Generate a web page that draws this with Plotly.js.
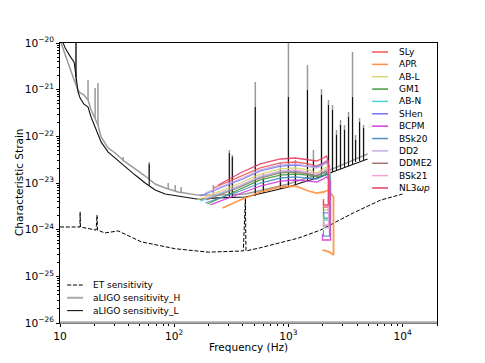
<!DOCTYPE html>
<html>
<head>
<meta charset="utf-8">
<script src="https://cdn.plot.ly/plotly-3.0.1.min.js"></script>
<style>body{margin:0;background:#fff}</style>
</head>
<body>
<div id="chart" style="width:485px;height:363px"></div>
<script>
// ET design curve (Hz, strain)
var et_freq = [10, 14.97, 15.0, 15.1, 20.7, 21.1, 21.3, 24.7, 32.3, 51.3, 102, 199, 403, 420, 425, 546, 1224, 1908, 3715, 6412, 10000];
var et_strain = [1.14e-24, 1.14e-24, 2.4e-24, 1.14e-24, 9.8e-25, 2.06e-24, 9.8e-25, 8.5e-25, 9.4e-25, 5.5e-25, 3.9e-25, 3.3e-25, 3.5e-25, 4.8e-24, 3.5e-25, 4.0e-25, 6.6e-25, 9.8e-25, 2.3e-24, 4.3e-24, 5.8e-24];

// aLIGO noise floor, H and L
var ligo_freq = [10, 11.1, 12.2, 13.3, 14.4, 15.0, 16.2, 17.6, 18.7, 20.3, 21.5, 22.9, 26.4, 30.4, 37.2, 45.5, 55.7, 68.1, 83.4, 108, 162, 243, 420, 654, 1000, 1274, 1909, 2432, 3499, 4932];
var ligo_L = [1.48e-20, 7.8e-21, 5.3e-21, 3.9e-21, 8.9e-22, 6.6e-22, 4.9e-22, 4.25e-22, 2.6e-22, 1.58e-22, 1.07e-22, 7.6e-23, 4.6e-23, 3.4e-23, 2.2e-23, 1.48e-23, 1.0e-23, 7.1e-24, 5.8e-24, 5.3e-24, 4.5e-24, 4.8e-24, 5.0e-24, 6.4e-24, 8.2e-24, 1.0e-23, 1.35e-23, 1.72e-23, 2.43e-23, 3.27e-23];
var ligo_H = [1.16e-20, 5.5e-21, 2.9e-21, 1.61e-21, 9.8e-22, 8.5e-22, 7.7e-22, 6.0e-22, 3.7e-22, 2.47e-22, 1.75e-22, 9.7e-23, 5.6e-23, 4.4e-23, 2.82e-23, 2.0e-23, 1.41e-23, 9.5e-24, 7.8e-24, 6.4e-24, 5.5e-24, 5.5e-24, 5.8e-24, 7.4e-24, 9.5e-24, 1.16e-23, 1.56e-23, 2.0e-23, 2.96e-23, 4.18e-23];

// narrow lines (spikes) on top of the floor
var line_freq = [13.8, 17.6, 20.3, 21.5, 35.7, 60.4, 88.6, 102, 115, 220, 304, 323, 513, 604, 851, 1000, 1152, 1468, 1657, 1948, 2243, 2432, 2636, 2858, 3098, 3360, 3642, 3873, 4197, 4549];
var line_H_base = [1.26e-21, 6.0e-22, 2.47e-22, 1.75e-22, 2.9e-23, 1.2e-23, 7.4e-24, 6.7e-24, 6.4e-24, 5.5e-24, 5.5e-24, 5.5e-24, 6.1e-24, 7.1e-24, 8.6e-24, 9.5e-24, 1.05e-23, 1.28e-23, 1.41e-23, 1.56e-23, 1.81e-23, 2.0e-23, 2.1e-23, 2.31e-23, 2.56e-23, 2.69e-23, 3.11e-23, 3.27e-23, 3.61e-23, 3.98e-23];
var line_H_top = [1.28e-20, 1.61e-21, 1.09e-21, 1.39e-21, 3.61e-23, 2.82e-23, 1.0e-23, 9.06e-24, 8.2e-24, 9.06e-24, 5.1e-23, 3.98e-23, 1.46e-21, 1.64e-23, 2.69e-23, 1.28e-20, 3.11e-23, 3.38e-21, 5.1e-23, 1.03e-21, 6.0e-22, 4.69e-22, 1.37e-22, 2.24e-22, 1.75e-22, 3.32e-22, 6.41e-21, 1.07e-22, 2.47e-22, 1.75e-22];
var line_L_base = [1.87e-21, null, null, null, null, 9.06e-24, null, null, null, null, 4.77e-24, 4.77e-24, 5.26e-24, 6.1e-24, 7.4e-24, 8.2e-24, 9.06e-24, 1.1e-23, 1.22e-23, 1.35e-23, 1.56e-23, 1.72e-23, 1.81e-23, 2.0e-23, 2.2e-23, 2.31e-23, 2.56e-23, 2.82e-23, 2.96e-23, 3.11e-23];
var line_L_top = [1.28e-20, null, null, null, null, 2.56e-23, null, null, null, null, 4.4e-23, 3.61e-23, 4.25e-22, 1.16e-23, 1.9e-23, 7.0e-22, 1.9e-23, 9.84e-22, 3.11e-23, 7.7e-22, 4.69e-22, 3.67e-22, 1.07e-22, 1.75e-22, 1.37e-22, 2.6e-22, 6.97e-22, 8.35e-23, 2.03e-22, 1.51e-22];

// EOS spectra, strain in units of 1e-23
var eos_names = ['SLy', 'APR', 'AB-L', 'GM1', 'AB-N', 'SHen', 'BCPM', 'BSk20', 'DD2', 'DDME2', 'BSk21', 'NL3<i>ωp</i>'];
var eos_colors = ['#f25555', '#ff9040', '#d8d86a', '#3f9a3f', '#4fd2d2', '#7272ff', '#d83ad8', '#4a8fcc', '#c4aee0', '#a07870', '#f2a4d8', '#e63c62'];
var eos_freq = [
  [220, 379, 568, 851, 1152, 1497, 1760, 2028, 2154, 2290, 2290, 2028, 2028],
  [264, 379, 568, 851, 1152, 1497, 1760, 2028, 2243, 2482, 2482, 2300, 1987],
  [159, 379, 568, 851, 1152, 1497, 1760, 2028, 2154, 2243, 2243, 2028, 2028],
  [195, 379, 568, 851, 1152, 1497, 1760, 2028, 2154, 2290, 2290, 2028, 2028],
  [169, 379, 568, 851, 1152, 1497, 1760, 2028, 2154, 2336, 2336, 2050, 2050],
  [169, 379, 568, 851, 1152, 1497, 1760, 2028, 2154, 2243, 2243, 2028, 2028],
  [207, 379, 568, 851, 1152, 1497, 1760, 2028, 2154, 2336, 2336, 1987, 1987],
  [187, 379, 568, 851, 1152, 1497, 1760, 2028, 2154, 2290, 2290, 2028, 2028],
  [187, 379, 568, 851, 1152, 1497, 1760, 2028, 2154, 2290, 2290, 2050, 2050],
  [191, 379, 568, 851, 1152, 1497, 1760, 2028, 2154, 2290, 2290, 2028, 2028],
  [179, 379, 568, 851, 1152, 1497, 1760, 2028, 2154, 2243, 2243, 2028, 2028],
  [243, 379, 568, 851, 1152, 1497, 1760, 2028, 2154, 2243, 2243, 2028, 2028]
];
var eos_strain = [
  [0.782, 1.35, 2.10, 2.69, 2.82, 2.56, 2.31, 2.69, 2.96, 2.31, 0.306, 0.306, 0.411],
  [0.291, 0.432, 0.641, 0.821, 0.862, 0.674, 0.610, 0.641, 0.708, 0.501, 0.0286, 0.033, 0.0367],
  [0.432, 1.00, 1.56, 2.00, 2.10, 1.90, 1.64, 2.00, 2.20, 1.81, 0.264, 0.264, 0.355],
  [0.355, 0.744, 1.16, 1.48, 1.56, 1.48, 1.35, 1.48, 1.64, 1.35, 0.177, 0.177, 0.239],
  [0.411, 0.862, 1.35, 1.72, 1.81, 1.64, 1.41, 1.64, 1.90, 1.56, 0.161, 0.161, 0.217],
  [0.526, 1.16, 1.81, 2.31, 2.43, 2.31, 2.20, 2.56, 2.82, 2.20, 0.228, 0.228, 0.306],
  [0.338, 0.581, 0.862, 1.10, 1.16, 1.10, 1.05, 1.22, 1.35, 1.10, 0.060, 0.060, 0.081],
  [0.373, 0.674, 1.00, 1.28, 1.35, 1.28, 1.22, 1.41, 1.56, 1.28, 0.073, 0.073, 0.098],
  [0.610, 1.22, 1.90, 2.43, 2.56, 2.31, 2.10, 2.43, 2.69, 2.10, 0.109, 0.109, 0.146],
  [0.432, 0.821, 1.28, 1.64, 1.72, 1.56, 1.41, 1.64, 1.81, 1.48, 0.120, 0.120, 0.161],
  [0.454, 0.906, 1.41, 1.81, 1.90, 1.72, 1.56, 1.81, 2.00, 1.64, 0.126, 0.126, 0.169],
  [0.906, 1.64, 2.56, 3.27, 3.43, 3.11, 2.96, 3.43, 3.79, 2.82, 0.338, 0.338, 0.454]
];

var sens_names = ['ET sensitivity', 'aLIGO sensitivity_H', 'aLIGO sensitivity_L'];

var FONT = 'DejaVu Sans, Liberation Sans, sans-serif';
var ET_LINE = {color: '#000', width: 1, dash: '4px,1.8px'};
var H_LINE = {color: '#9a9a9a', width: 1.5};
var L_LINE = {color: '#111', width: 1.1};

// vertical spike segments
function spikes(base, top){
  var xs = [], ys = [];
  for (var i = 0; i < line_freq.length; i++){
    if (base[i] == null) continue;
    xs.push(line_freq[i], line_freq[i], null);
    ys.push(base[i], top[i], null);
  }
  return [xs, ys];
}
var sH = spikes(line_H_base, line_H_top);
var sL = spikes(line_L_base, line_L_top);

var traces = [
  {x: et_freq, y: et_strain, mode: 'lines', line: ET_LINE, showlegend: false},
  {x: ligo_freq, y: ligo_H, mode: 'lines', line: H_LINE, showlegend: false},
  {x: sH[0], y: sH[1], mode: 'lines', line: H_LINE, showlegend: false, connectgaps: false},
  {x: ligo_freq, y: ligo_L, mode: 'lines', line: L_LINE, showlegend: false},
  {x: sL[0], y: sL[1], mode: 'lines', line: L_LINE, showlegend: false, connectgaps: false}
];
for (var i = 0; i < eos_names.length; i++){
  traces.push({
    x: eos_freq[i],
    y: eos_strain[i].map(function(v){ return v * 1e-23; }),
    mode: 'lines',
    name: eos_names[i],
    line: {color: eos_colors[i], width: i == 1 ? 1.8 : 1.3},
    opacity: 0.9,
    showlegend: false
  });
}

// legends drawn by hand so entries sit as tight as matplotlib's
var shapes = [], annotations = [];
var plotTop = 43, plotH = 280, plotLeft = 60, plotW = 377;
function py(px){ return (plotTop + plotH - px) / plotH; }
function px(x){ return (x - plotLeft) / plotW; }
for (var i = 0; i < eos_names.length; i++){
  var yy = py(52 + i * 12.36);
  shapes.push({type: 'line', xref: 'paper', yref: 'paper', x0: 0.828, x1: 0.870, y0: yy, y1: yy,
    line: {color: eos_colors[i], width: 1.5}});
  annotations.push({xref: 'paper', yref: 'paper', x: 0.893, y: yy, text: eos_names[i], showarrow: false,
    xanchor: 'left', yanchor: 'middle', font: {family: FONT, size: 9, color: '#000'}});
}
var sens_lines = [ET_LINE, {color: '#aaaaaa', width: 2}, L_LINE];
for (var j = 0; j < sens_names.length; j++){
  var yy2 = py(285 + j * 12.8);
  shapes.push({type: 'line', xref: 'paper', yref: 'paper', x0: 0.019, x1: 0.061, y0: yy2, y1: yy2, line: sens_lines[j]});
  annotations.push({xref: 'paper', yref: 'paper', x: 0.083, y: yy2, text: sens_names[j], showarrow: false,
    xanchor: 'left', yanchor: 'middle', font: {family: FONT, size: 9, color: '#000'}});
}
// axis titles placed where matplotlib puts them
annotations.push({xref: 'paper', yref: 'paper', x: 0.5, y: py(347), text: 'Frequency (Hz)', showarrow: false,
  xanchor: 'center', yanchor: 'middle', font: {family: FONT, size: 10.5, color: '#000'}});
annotations.push({xref: 'paper', yref: 'paper', x: px(19), y: 0.5, text: 'Characteristic Strain', showarrow: false,
  textangle: -90, xanchor: 'center', yanchor: 'middle', font: {family: FONT, size: 10.5, color: '#000'}});
// grey rule along the bottom edge
shapes.push({type: 'line', xref: 'paper', yref: 'paper', x0: 0, x1: 1, y0: 0.002, y1: 0.002,
  line: {color: '#aaaaaa', width: 2.5}});

var axisCommon = {
  type: 'log', dtick: 1, exponentformat: 'power', showexponent: 'all',
  ticks: 'outside', ticklen: 3.5, tickwidth: 0.8, tickcolor: '#000',
  minor: {ticks: 'outside', ticklen: 2, tickwidth: 0.6, tickcolor: '#000', dtick: 'D1', showgrid: false},
  showline: true, mirror: true, linecolor: '#000', linewidth: 0.8,
  showgrid: false, zeroline: false,
  tickfont: {family: FONT, size: 8.5, color: '#000'}
};

var layout = {
  width: 485, height: 363,
  margin: {l: 60, r: 48, t: 43, b: 40},
  paper_bgcolor: '#fff', plot_bgcolor: '#fff',
  font: {family: FONT, color: '#000'},
  xaxis: Object.assign({}, axisCommon, {range: [1, 4.301]}),
  yaxis: Object.assign({}, axisCommon, {range: [-26, -20]}),
  shapes: shapes,
  annotations: annotations,
  showlegend: false
};

Plotly.newPlot('chart', traces, layout, {displayModeBar: false});
</script>
</body>
</html>
